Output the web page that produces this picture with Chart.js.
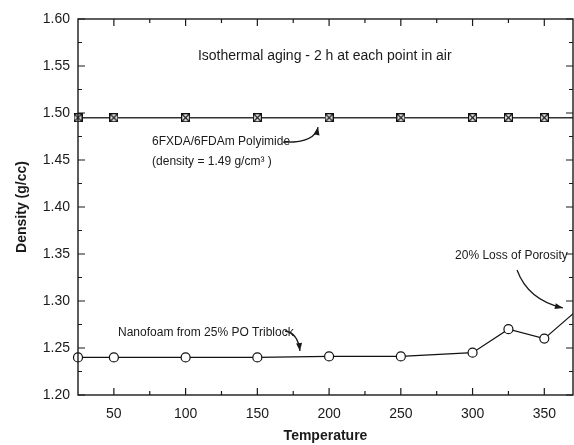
<!DOCTYPE html>
<html>
<head>
<meta charset="utf-8">
<script src="https://cdn.jsdelivr.net/npm/chart.js@4.4.0/dist/chart.umd.min.js"></script>
<style>
  html, body { margin: 0; padding: 0; background: #fff; }
</style>
</head>
<body>
<canvas id="myChart" width="574" height="445"></canvas>
<script>
// 1. DATOS

const temperaturas = [25, 50, 100, 150, 200, 250, 300, 325, 350, 375];
const densidadPolyimide = [1.495, 1.495, 1.495, 1.495, 1.495, 1.495, 1.495, 1.495, 1.495, 1.495];
const densidadNanofoam = [1.240, 1.240, 1.240, 1.240, 1.241, 1.241, 1.245, 1.270, 1.260, 1.293];

const ticksX = [50, 100, 150, 200, 250, 300, 350];
const ticksY = [1.20, 1.25, 1.30, 1.35, 1.40, 1.45, 1.50, 1.55, 1.60];

const fuente = "'Liberation Sans', Arial, sans-serif";
const negro = "#1a1a1a";


// 2. MARCADOR DE CAJA CON CRUZ

function cajaCruzada() {
  const c = document.createElement("canvas");
  c.width = 9;
  c.height = 9;
  const g = c.getContext("2d");
  g.fillStyle = "#fff";
  g.fillRect(0, 0, 9, 9);
  g.strokeStyle = "#111";
  g.lineWidth = 1.2;
  g.strokeRect(0.6, 0.6, 7.8, 7.8);
  g.beginPath();
  g.moveTo(1, 1); g.lineTo(8, 8);
  g.moveTo(8, 1); g.lineTo(1, 8);
  g.stroke();
  return c;
}


// 3. MARCO CON TICKS HACIA ADENTRO

const marcoPlugin = {
  id: "marco",
  afterDatasetsDraw(chart) {
    const { ctx, chartArea: a, scales: { x, y } } = chart;
    ctx.save();
    ctx.strokeStyle = negro;
    ctx.lineWidth = 1.4;
    ctx.strokeRect(a.left, a.top, a.right - a.left, a.bottom - a.top);

    ctx.lineWidth = 1.2;
    ctx.beginPath();
    const menoresX = ticksX.slice(0, -1).map(v => v + 25);
    ticksX.forEach(v => {
      const px = x.getPixelForValue(v);
      ctx.moveTo(px, a.bottom); ctx.lineTo(px, a.bottom - 7);
      ctx.moveTo(px, a.top); ctx.lineTo(px, a.top + 7);
    });
    menoresX.forEach(v => {
      const px = x.getPixelForValue(v);
      ctx.moveTo(px, a.bottom); ctx.lineTo(px, a.bottom - 4);
      ctx.moveTo(px, a.top); ctx.lineTo(px, a.top + 4);
    });
    const menoresY = ticksY.slice(0, -1).map(v => v + 0.025);
    ticksY.forEach(v => {
      const py = y.getPixelForValue(v);
      ctx.moveTo(a.left, py); ctx.lineTo(a.left + 7, py);
      ctx.moveTo(a.right, py); ctx.lineTo(a.right - 7, py);
    });
    menoresY.forEach(v => {
      const py = y.getPixelForValue(v);
      ctx.moveTo(a.left, py); ctx.lineTo(a.left + 4, py);
      ctx.moveTo(a.right, py); ctx.lineTo(a.right - 4, py);
    });
    ctx.stroke();
    ctx.restore();
  }
};


// 4. TEXTOS Y FLECHAS (en unidades de los ejes)

const notas = [
  { texto: "Isothermal aging - 2 h at each point in air", x: 197, y: 1.560, size: 14, align: "center" },
  { texto: "6FXDA/6FDAm Polyimide", x: 76.6, y: 1.4695, size: 12, align: "left" },
  { texto: "(density = 1.49 g/cm³ )", x: 76.6, y: 1.4482, size: 12, align: "left" },
  { texto: "Nanofoam from 25% PO Triblock", x: 52.9, y: 1.266, size: 12, align: "left" },
  { texto: "20% Loss of Porosity", x: 287.8, y: 1.348, size: 12, align: "left" }
];

const flechas = [
  { desde: [167.9, 1.4691], control: [190.2, 1.4681], hasta: [192.3, 1.4851] },
  { desde: [169.3, 1.2681], control: [178.3, 1.2660], hasta: [179.7, 1.2468] },
  { desde: [331.0, 1.3330], control: [338.6, 1.3011], hasta: [363.0, 1.2926] }
];

const notasPlugin = {
  id: "notas",
  afterDatasetsDraw(chart) {
    const { ctx, scales: { x, y } } = chart;
    ctx.save();
    ctx.fillStyle = negro;
    ctx.strokeStyle = negro;
    ctx.textBaseline = "middle";
    notas.forEach(n => {
      ctx.font = `${n.size}px ${fuente}`;
      ctx.textAlign = n.align;
      ctx.fillText(n.texto, x.getPixelForValue(n.x), y.getPixelForValue(n.y));
    });

    ctx.lineWidth = 1.3;
    flechas.forEach(f => {
      const p0 = { x: x.getPixelForValue(f.desde[0]), y: y.getPixelForValue(f.desde[1]) };
      const pc = { x: x.getPixelForValue(f.control[0]), y: y.getPixelForValue(f.control[1]) };
      const p1 = { x: x.getPixelForValue(f.hasta[0]), y: y.getPixelForValue(f.hasta[1]) };
      ctx.beginPath();
      ctx.moveTo(p0.x, p0.y);
      ctx.quadraticCurveTo(pc.x, pc.y, p1.x, p1.y);
      ctx.stroke();
      const ang = Math.atan2(p1.y - pc.y, p1.x - pc.x);
      const L = 8, W = 3;
      ctx.beginPath();
      ctx.moveTo(p1.x, p1.y);
      ctx.lineTo(p1.x - L * Math.cos(ang) + W * Math.sin(ang), p1.y - L * Math.sin(ang) - W * Math.cos(ang));
      ctx.lineTo(p1.x - L * Math.cos(ang) - W * Math.sin(ang), p1.y - L * Math.sin(ang) + W * Math.cos(ang));
      ctx.closePath();
      ctx.fill();
    });
    ctx.restore();
  }
};


// 5. GRÁFICO

const ctx = document.getElementById("myChart");

const chart = new Chart(ctx, {
  type: "line",
  data: {
    datasets: [
      {
        label: "6FXDA/6FDAm Polyimide",
        data: temperaturas.map((t, i) => ({ x: t, y: densidadPolyimide[i] })),
        borderColor: "#333",
        borderWidth: 1.4,
        pointStyle: cajaCruzada(),
        clip: { left: 10, top: 10, bottom: 10, right: 0 }
      },
      {
        label: "Nanofoam from 25% PO Triblock",
        data: temperaturas.map((t, i) => ({ x: t, y: densidadNanofoam[i] })),
        borderColor: "#111",
        borderWidth: 1.2,
        pointStyle: "circle",
        pointRadius: 4.5,
        pointBorderWidth: 1.2,
        pointBackgroundColor: "#fff",
        pointBorderColor: "#111",
        clip: { left: 10, top: 10, bottom: 10, right: 0 }
      }
    ]
  },
  options: {
    responsive: false,
    animation: false,
    devicePixelRatio: 1,
    layout: {
      autoPadding: false,
      padding: { top: 19, right: 1, left: 0, bottom: 0 }
    },
    plugins: {
      legend: { display: false },
      tooltip: { enabled: false }
    },
    scales: {
      x: {
        type: "linear",
        min: 25,
        max: 370,
        afterBuildTicks: s => { s.ticks = ticksX.map(v => ({ value: v })); },
        afterFit: s => {
          s.height = 50;
          s.paddingLeft = 0;
          s.paddingRight = 0;
        },
        grid: { display: false, drawTicks: false },
        border: { display: false },
        ticks: {
          padding: 11,
          autoSkip: false,
          maxRotation: 0,
          color: negro,
          font: { family: fuente, size: 14 },
          callback: v => String(v)
        },
        title: {
          display: true,
          text: "Temperature",
          color: negro,
          font: { family: fuente, size: 14, weight: "bold" },
          padding: { top: 0, bottom: 0 }
        }
      },
      y: {
        type: "linear",
        min: 1.2,
        max: 1.6,
        afterBuildTicks: s => { s.ticks = ticksY.map(v => ({ value: v })); },
        afterFit: s => {
          s.width = 78;
          s.paddingTop = 0;
          s.paddingBottom = 0;
        },
        grid: { display: false, drawTicks: false },
        border: { display: false },
        ticks: {
          padding: 8,
          color: negro,
          font: { family: fuente, size: 14 },
          callback: v => v.toFixed(2)
        },
        title: {
          display: true,
          text: "Density (g/cc)",
          color: negro,
          font: { family: fuente, size: 14, weight: "bold" },
          padding: { top: 14, bottom: 0 }
        }
      }
    }
  },
  plugins: [marcoPlugin, notasPlugin]
});
</script>
</body>
</html>
